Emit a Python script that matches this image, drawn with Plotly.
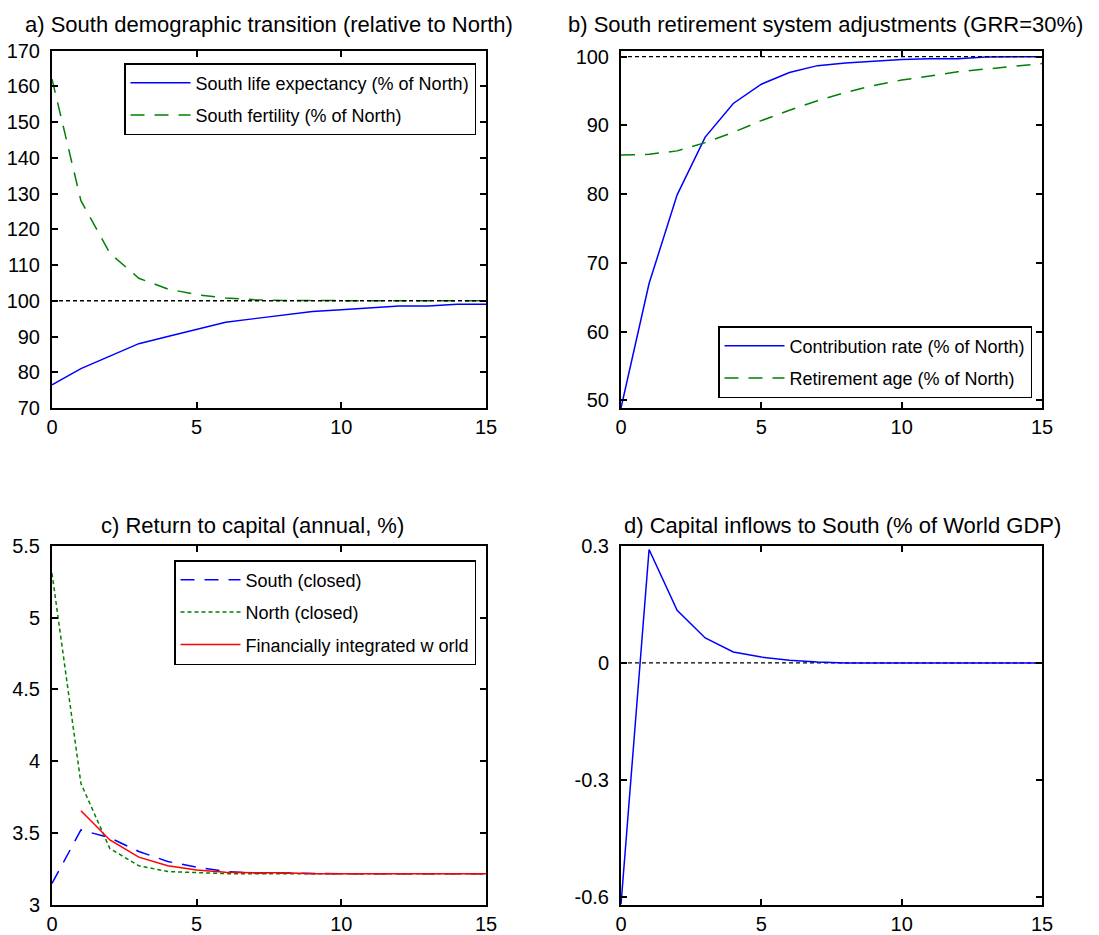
import plotly.graph_objects as go

# ---------------- data ----------------
t = list(range(16))

# a) South demographic transition (relative to North)
life_expectancy = [76.5, 81.0, 84.5, 88.0, 90.0, 92.0, 94.0, 95.0, 96.0, 97.0, 97.5, 98.0, 98.5, 98.5, 99.0, 99.0]
fertility = [162.0, 128.0, 113.3, 106.3, 103.3, 101.7, 100.8, 100.3, 100.1, 100.0, 100.0, 100.0, 100.0, 100.0, 100.0, 100.0]

# b) South retirement system adjustments (GRR=30%)
contribution_rate = [48.9, 67.0, 79.9, 88.3, 93.2, 96.0, 97.7, 98.7, 99.1, 99.4, 99.6, 99.7, 99.7, 99.95, 100.0, 100.0]
retirement_age = [85.7, 85.8, 86.3, 87.5, 89.0, 90.7, 92.2, 93.6, 94.8, 95.8, 96.6, 97.2, 97.8, 98.2, 98.6, 99.0]

# c) Return to capital (annual, %)
south_closed = [3.147, 3.52, 3.465, 3.37, 3.30, 3.26, 3.23, 3.22, 3.22, 3.215, 3.214, 3.214, 3.214, 3.214, 3.214, 3.214]
north_closed = [5.31, 3.844, 3.39, 3.27, 3.23, 3.22, 3.215, 3.214, 3.214, 3.214, 3.214, 3.214, 3.214, 3.214, 3.214, 3.214]
integrated = [None, 3.654, 3.45, 3.33, 3.27, 3.24, 3.225, 3.222, 3.222, 3.214, 3.214, 3.214, 3.214, 3.214, 3.214, 3.214]

# d) Capital inflows to South (% of World GDP)
capital_inflows = [-0.62, 0.291, 0.135, 0.064, 0.028, 0.015, 0.007, 0.002, 0.0, 0.0, 0.0, 0.0, 0.0, 0.0, 0.0, 0.0]

ref_a = [100] * 16
ref_b = [100] * 16
ref_d = [0] * 16

titles = [
    "a) South demographic transition (relative to North)",
    "b) South retirement system adjustments (GRR=30%)",
    "c) Return to capital (annual, %)",
    "d) Capital inflows to South (% of World GDP)",
]

# ---------------- styling ----------------
BLUE = "rgb(0,0,255)"
GREEN = "rgb(0,128,0)"
RED = "rgb(255,0,0)"
FONT = "Liberation Sans, Arial, sans-serif"
LONG_DASH = "14px,10px"
SHORT_DASH = "4px,3px"
W, H = 1099, 935

fig = go.Figure()

def ref_line(y, xa, ya):
    fig.add_trace(go.Scatter(x=t, y=y, mode="lines", xaxis=xa, yaxis=ya,
                             line=dict(color="black", width=1.3, dash=SHORT_DASH),
                             showlegend=False, hoverinfo="skip"))

# panel a
fig.add_trace(go.Scatter(x=t, y=life_expectancy, mode="lines", name="South life expectancy (% of North)",
                         line=dict(color=BLUE, width=1.5), xaxis="x", yaxis="y",
                         legend="legend", legendgroup="a1"))
fig.add_trace(go.Scatter(x=t, y=fertility, mode="lines", name="South fertility (% of North)",
                         line=dict(color=GREEN, width=1.5, dash=LONG_DASH), xaxis="x", yaxis="y",
                         legend="legend", legendgroup="a2"))
ref_line(ref_a, "x", "y")

# panel b
fig.add_trace(go.Scatter(x=t, y=contribution_rate, mode="lines", name="Contribution rate (% of North)",
                         line=dict(color=BLUE, width=1.5), xaxis="x2", yaxis="y2",
                         legend="legend2", legendgroup="b1"))
fig.add_trace(go.Scatter(x=t, y=retirement_age, mode="lines", name="Retirement age (% of North)",
                         line=dict(color=GREEN, width=1.5, dash=LONG_DASH), xaxis="x2", yaxis="y2",
                         legend="legend2", legendgroup="b2"))
ref_line(ref_b, "x2", "y2")

# panel c
fig.add_trace(go.Scatter(x=t, y=south_closed, mode="lines", name="South (closed)",
                         line=dict(color=BLUE, width=1.5, dash=LONG_DASH), xaxis="x3", yaxis="y3",
                         legend="legend3", legendgroup="c1"))
fig.add_trace(go.Scatter(x=t, y=north_closed, mode="lines", name="North (closed)",
                         line=dict(color=GREEN, width=1.5, dash=SHORT_DASH), xaxis="x3", yaxis="y3",
                         legend="legend3", legendgroup="c2"))
fig.add_trace(go.Scatter(x=t, y=integrated, mode="lines", name="Financially integrated w orld",
                         line=dict(color=RED, width=1.5), xaxis="x3", yaxis="y3",
                         legend="legend3", legendgroup="c3"))

# panel d
ref_line(ref_d, "x4", "y4")
fig.add_trace(go.Scatter(x=t, y=capital_inflows, mode="lines", name="Capital inflows",
                         line=dict(color=BLUE, width=1.5), xaxis="x4", yaxis="y4", showlegend=False))

xdom_l = [52 / W, 486 / W]
xdom_r = [621 / W, 1042 / W]
ydom_t = [(H - 408) / H, (H - 50.5) / H]
ydom_b = [(H - 904.5) / H, (H - 546) / H]

def xax(domain, anchor):
    return dict(domain=domain, anchor=anchor, range=[0, 15], tickvals=[0, 5, 10, 15],
                ticks="inside", ticklen=6, tickwidth=1.5, tickcolor="black",
                showline=True, linecolor="black", linewidth=2, mirror="ticks",
                showgrid=False, zeroline=False, ticklabelstandoff=0, automargin=False,
                tickfont=dict(family=FONT, size=20, color="black"))

def yax(domain, anchor, rng, vals, texts):
    return dict(domain=domain, anchor=anchor, range=rng, tickvals=vals, ticktext=texts,
                ticks="inside", ticklen=6, tickwidth=1.5, tickcolor="black",
                showline=True, linecolor="black", linewidth=2, mirror="ticks",
                showgrid=False, zeroline=False, ticklabelstandoff=6, automargin=False,
                tickfont=dict(family=FONT, size=20, color="black"))

a_vals = list(range(70, 171, 10))
b_vals = list(range(50, 101, 10))
c_vals = [3, 3.5, 4, 4.5, 5, 5.5]
c_text = ["3", "3.5", "4", "4.5", "5", "5.5"]
d_vals = [-0.6, -0.3, 0, 0.3]
d_text = ["-0.6", "-0.3", "0", "0.3"]

legend_common = dict(bgcolor="white", bordercolor="black", borderwidth=1.5,
                     font=dict(family=FONT, size=18, color="black"),
                     tracegroupgap=6, itemwidth=60)

annotations = []
title_pos = [(269, 25), (825, 25), (252, 525), (842, 525)]
for txt, (px, py) in zip(titles, title_pos):
    annotations.append(dict(text=txt, xref="paper", yref="paper", x=px / W, y=(H - py) / H,
                            xanchor="center", yanchor="middle", showarrow=False,
                            font=dict(family=FONT, size=22, color="black")))

fig.update_layout(
    template="none",
    width=W, height=H, margin=dict(l=0, r=0, t=0, b=0, autoexpand=False),
    paper_bgcolor="white", plot_bgcolor="white",
    font=dict(family=FONT, color="black"),
    xaxis=xax(xdom_l, "y"), yaxis=yax(ydom_t, "x", [70, 170], a_vals, [str(v) for v in a_vals]),
    xaxis2=xax(xdom_r, "y2"), yaxis2=yax(ydom_t, "x2", [48.9, 100.9], b_vals, [str(v) for v in b_vals]),
    xaxis3=xax(xdom_l, "y3"), yaxis3=yax(ydom_b, "x3", [3, 5.5], c_vals, c_text),
    xaxis4=xax(xdom_r, "y4"), yaxis4=yax(ydom_b, "x4", [-0.62, 0.30], d_vals, d_text),
    legend=dict(x=476 / W, y=(H - 63) / H, xanchor="right", yanchor="top", **legend_common),
    legend2=dict(x=1032 / W, y=(H - 398) / H, xanchor="right", yanchor="bottom", **legend_common),
    legend3=dict(x=476 / W, y=(H - 560) / H, xanchor="right", yanchor="top", **legend_common),
    annotations=annotations,
    showlegend=True,
)

fig.write_html("out.html", config={"displayModeBar": False},
               post_script="document.body.style.margin='0';")
